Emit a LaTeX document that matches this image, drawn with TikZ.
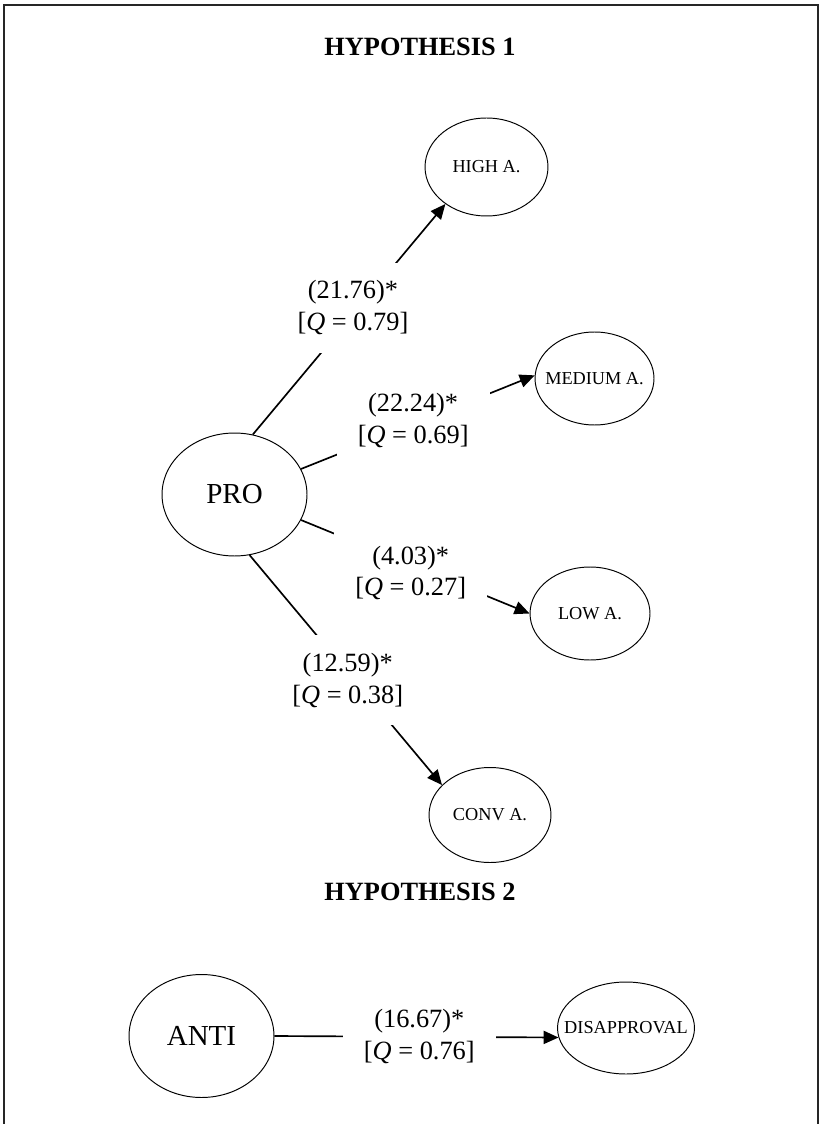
\documentclass[tikz,border=0pt]{standalone}
\usepackage{fontspec}
\setmainfont{Liberation Serif}
\usetikzlibrary{shapes,arrows.meta}
\tikzstyle{hyp title} = [font=\fontsize{15}{18}\selectfont\bfseries]
\tikzstyle{estim} = [fill=white, align=center, inner xsep=0.42cm, inner ysep=0.36cm, font=\fontsize{15}{18}\selectfont]
\tikzstyle{link} = [line width=0.95pt]
\tikzstyle{effect} = [link, -{Triangle[length=8.5pt,width=7.5pt]}]
\tikzset{
  var/.style = {
    ellipse,
    draw,
    line width=0.55pt,
    inner sep=0pt,
    },
  big var/.style = {
    var,
    minimum width=2.9cm,
    minimum height=2.46cm,
    font=\fontsize{16.5}{18}\selectfont,
    },
  small var/.style = {
    var,
    minimum width=2.4cm,
    minimum height=1.88cm,
    font=\fontsize{10.4}{12}\selectfont,
    },
}
\newcommand{\nobox}[1]{\makebox[0pt]{#1}}
\begin{document}
\begin{tikzpicture}[x=0.02cm, y=-0.02cm]
    \useasboundingbox (0,0) rectangle (819,1124);

    % frame
    \draw[black!85, line width=0.6pt] (4,1124) -- (4,5) -- (818,5) -- (818,1124);

    % hypothesis 1
    \node[hyp title] (hyp1) at (420,47) {HYPOTHESIS 1};

    \node[big var] (pro) at (234.5,494.5) {PRO};

    \node[small var, minimum width=2.46cm, minimum height=1.96cm] (high) at (486.5,167) {\nobox{HIGH A.}};
    \node[small var, minimum width=2.38cm, minimum height=1.86cm] (medium) at (594.5,378.5) {\nobox{MEDIUM A.}};
    \node[small var, minimum height=1.86cm] (low) at (590,613.5) {\nobox{LOW A.}};
    \node[small var, minimum width=2.44cm, minimum height=1.9cm] (conv) at (490,815) {\nobox{CONV A.}};

    % hypothesis 2
    \node[hyp title] (hyp2) at (420,892) {HYPOTHESIS 2};

    \node[big var] (anti) at (201.5,1036) {ANTI};
    \node[small var, minimum width=2.74cm, minimum height=1.84cm] (disap) at (626,1028) {\nobox{DISAPPROVAL}};

    % Paths
    \draw[effect] (pro.73) -- node[estim, pos=.52, yshift=0.14cm] {(21.76)*\\{[}\textit{Q} = 0.79]} (high.222);
    \draw[effect] (pro.21) -- node[estim, pos=.48, yshift=0.07cm] {(22.24)*\\{[}\textit{Q} = 0.69]} (medium.177);
    \draw[effect] (pro.-21) -- node[estim, pos=.48, yshift=-0.16cm] {(4.03)*\\{[}\textit{Q} = 0.27]} (low.west);
    \draw[effect] (pro.-76) -- node[estim, pos=.51, yshift=-0.16cm] {(12.59)*\\{[}\textit{Q} = 0.38]} (conv.148);

    \draw[effect] (anti.east) -- node[estim, pos=.51] {(16.67)*\\{[}\textit{Q} = 0.76]} (disap.188);
\end{tikzpicture}
\end{document}
